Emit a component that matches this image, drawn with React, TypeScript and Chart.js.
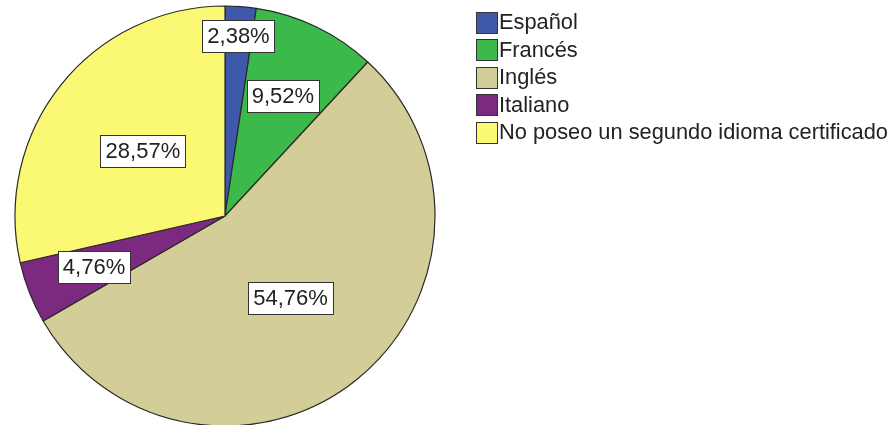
import React, { useEffect, useRef } from "react";
import { Chart, registerables } from "chart.js";

Chart.register(...registerables);

const categories = ["Español", "Francés", "Inglés", "Italiano", "No poseo un segundo idioma certificado"];
const percentages = [2.38, 9.52, 54.76, 4.76, 28.57];
const sliceColors = ["#3E58AC", "#3CB94B", "#D3CE97", "#7B2A7F", "#FBF873"];
// radial placement (fraction of radius) for each value label
const labelRadiusFractions = [0.86, 0.635, 0.5, 0.67, 0.5];

const FONT = "Liberation Sans, Arial, sans-serif";

const valueLabelPlugin = {
  id: "valueLabels",
  afterDatasetsDraw(chart: any) {
    const ctx = chart.ctx;
    const meta = chart.getDatasetMeta(0);
    const data = chart.data.datasets[0].data as number[];
    ctx.save();
    ctx.font = `22px ${FONT}`;
    ctx.textAlign = "center";
    ctx.textBaseline = "middle";
    meta.data.forEach((arc: any, i: number) => {
      const { x, y, startAngle, endAngle, outerRadius } = arc.getProps(
        ["x", "y", "startAngle", "endAngle", "outerRadius"],
        true
      );
      const mid = (startAngle + endAngle) / 2;
      const r = outerRadius * labelRadiusFractions[i];
      const cx = x + Math.cos(mid) * r;
      const cy = y + Math.sin(mid) * r;
      const text = data[i].toFixed(2).replace(".", ",") + "%";
      const w = Math.round(ctx.measureText(text).width + 10);
      const h = 32;
      const bx = Math.round(cx - w / 2) + 0.5;
      const by = Math.round(cy - h / 2) + 0.5;
      ctx.fillStyle = "#FFFFFF";
      ctx.fillRect(bx, by, w, h);
      ctx.strokeStyle = "#333333";
      ctx.lineWidth = 1;
      ctx.strokeRect(bx, by, w, h);
      ctx.fillStyle = "#222222";
      ctx.fillText(text, cx, cy + 1);
    });
    ctx.restore();
  },
};

const legendPlugin = {
  id: "sideLegend",
  afterDraw(chart: any) {
    const ctx = chart.ctx;
    const labels = chart.data.labels as string[];
    const colors = chart.data.datasets[0].backgroundColor as string[];
    const left = 476;
    const top = 22;
    const step = 27.5;
    const box = 21;
    ctx.save();
    ctx.font = `21.8px ${FONT}`;
    ctx.textAlign = "left";
    ctx.textBaseline = "middle";
    labels.forEach((label, i) => {
      const cy = top + i * step;
      const by = Math.round(cy - box / 2) + 0.5;
      ctx.fillStyle = colors[i];
      ctx.fillRect(left + 0.5, by, box, box);
      ctx.strokeStyle = "#333333";
      ctx.lineWidth = 1;
      ctx.strokeRect(left + 0.5, by, box, box);
      ctx.fillStyle = "#222222";
      ctx.fillText(label, left + box + 2, cy + 1);
    });
    ctx.restore();
  },
};

export default function App() {
  const canvasRef = useRef<HTMLCanvasElement | null>(null);

  useEffect(() => {
    document.body.style.margin = "0";
    const canvas = canvasRef.current;
    if (!canvas) return;
    const chart = new Chart(canvas, {
      type: "pie",
      data: {
        labels: categories,
        datasets: [
          {
            data: percentages,
            backgroundColor: sliceColors,
            borderColor: "#2A2A2A",
            borderWidth: 1.2,
            radius: 210,
            clip: false,
          } as any,
        ],
      },
      options: {
        animation: false,
        responsive: false,
        devicePixelRatio: 1,
        layout: { padding: { left: 14, right: 460, top: 7, bottom: 0 } },
        plugins: {
          legend: { display: false },
          tooltip: { enabled: false },
        },
      },
      plugins: [valueLabelPlugin, legendPlugin],
    });
    return () => chart.destroy();
  }, []);

  return (
    <div style={{ width: 896, height: 425, position: "relative" }}>
      <canvas ref={canvasRef} width={896} height={425} style={{ display: "block" }} />
    </div>
  );
}
